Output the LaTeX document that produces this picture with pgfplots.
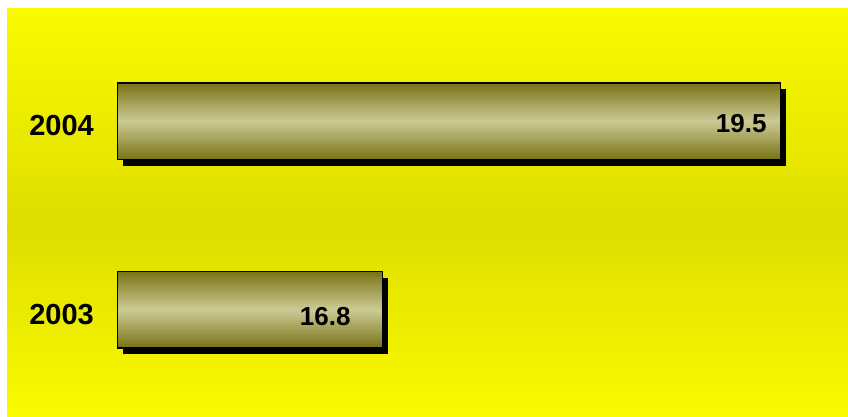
\documentclass[border=0pt]{standalone}
\usepackage{pgfplots}
\pgfplotsset{compat=1.18}
\usepackage{fontspec}
\setmainfont{Liberation Sans}
\definecolor{ytop}{RGB}{250,250,0}
\definecolor{ymid}{RGB}{222,222,0}
\definecolor{bdark}{RGB}{122,117,25}
\definecolor{blight}{RGB}{206,205,152}
\begin{document}
\begin{tikzpicture}
\useasboundingbox (0,0) rectangle (848pt,417pt);
\foreach \i in {0,...,203} {
  \pgfmathsetmacro\yy{2*\i}
  \pgfmathsetmacro\t{\yy>190 ? (\yy-190)/218*100 : (190-\yy)/190*100}
  \fill[ytop!\t!ymid] (7pt,\yy pt) rectangle (848pt,\yy pt+2.6pt);
}
\begin{axis}[
  at={(117pt,12.75pt)}, anchor=south west,
  scale only axis, width=707.5pt, height=377pt,
  xmin=15, xmax=19.8, ymin=-0.5, ymax=1.5,
  enlargelimits=false,
  axis line style={draw=none},
  tick style={draw=none},
  xtick=\empty,
  ytick={0,1}, yticklabels={2003,2004},
  yticklabel style={anchor=east, inner sep=0pt, xshift=-23pt, yshift=-4.5pt,
    font=\fontsize{29}{29}\selectfont\bfseries},
  /pgf/number format/assume math mode=true,
  /pgf/number format/fixed, /pgf/number format/precision=1,
]
% shadows
\addplot[xbar, bar width=76.5pt, bar shift=0pt, fill=black, draw=none, xshift=6pt, yshift=-6pt] coordinates {(16.8,0)};
\addplot[xbar, bar width=76.5pt, bar shift=0pt, fill=black, draw=none, xshift=6pt, yshift=-6pt] coordinates {(19.5,1)};
% gradient fill of the bars (nested bars, dark at the edges, light in the middle)
\pgfplotsinvokeforeach{0,5,10,15,20,25,30,35,40,45,50,55,60,65,70,75,80,85,90,95}{
  \addplot[xbar, bar width={76.5pt*(1-#1/100)}, bar shift=0pt, draw=none, fill=blight!#1!bdark] coordinates {(16.8,0)};
  \addplot[xbar, bar width={76.5pt*(1-#1/100)}, bar shift=0pt, draw=none, fill=blight!#1!bdark] coordinates {(19.5,1)};
}
% borders and value labels
\addplot[xbar, bar width=76.5pt, bar shift=0pt, draw=black, line width=1.5pt, fill=none,
  nodes near coords,
  every node near coord/.append style={anchor=east, inner sep=0pt, xshift=-31pt, yshift=-6.5pt,
    font=\fontsize{26}{26}\selectfont\bfseries, text=black}] coordinates {(16.8,0)};
\addplot[xbar, bar width=76.5pt, bar shift=0pt, draw=black, line width=1.5pt, fill=none,
  nodes near coords,
  every node near coord/.append style={anchor=east, inner sep=0pt, xshift=-13pt, yshift=-2pt,
    font=\fontsize{26}{26}\selectfont\bfseries, text=black}] coordinates {(19.5,1)};
\end{axis}
\end{tikzpicture}
\end{document}
